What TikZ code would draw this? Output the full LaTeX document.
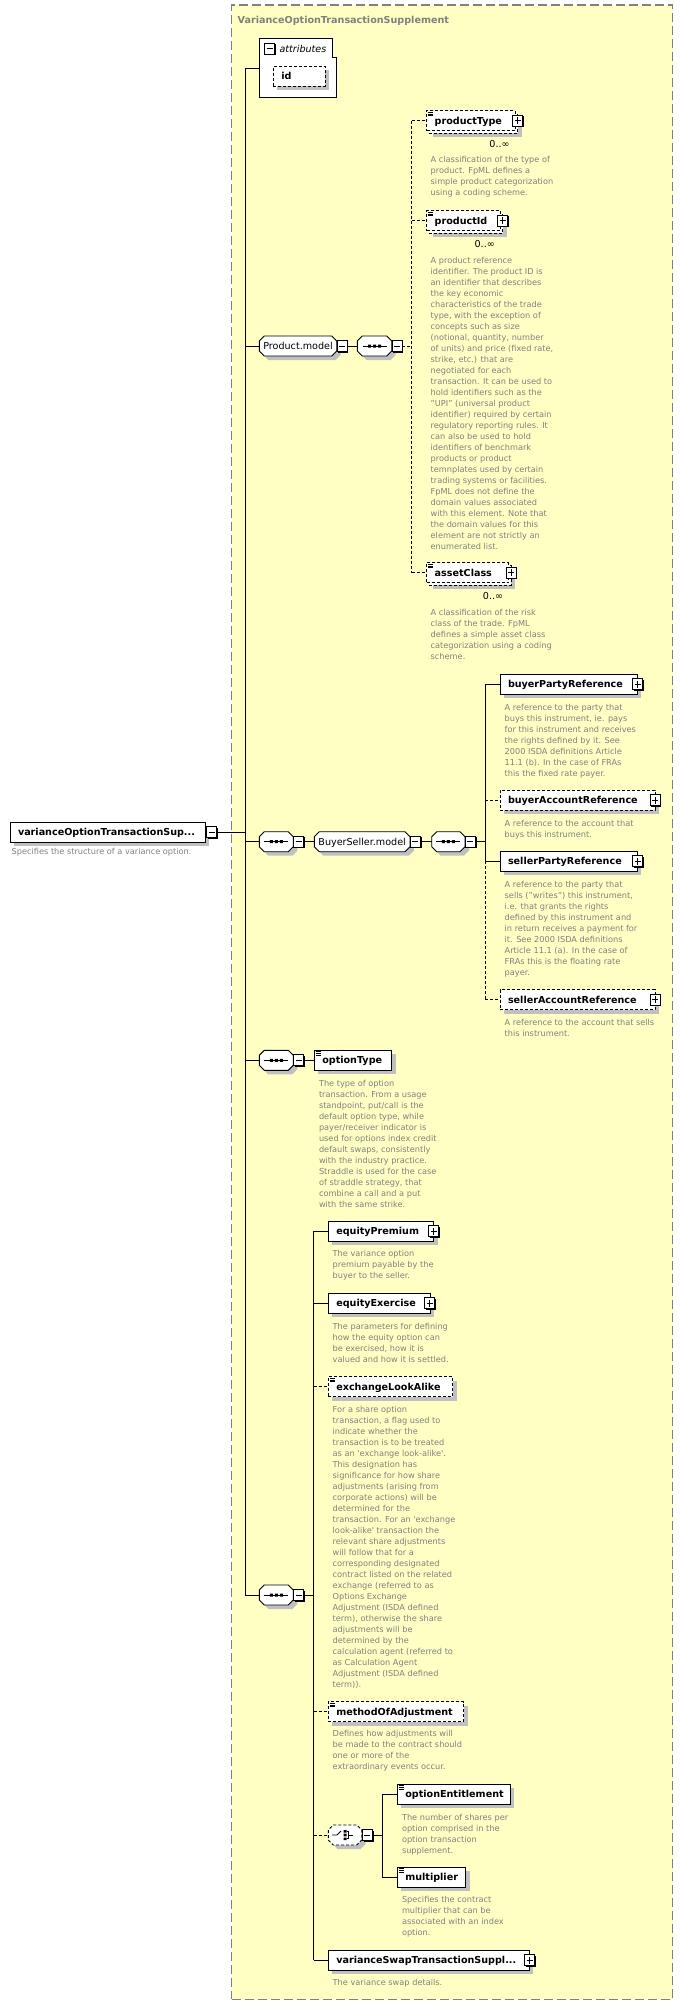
\documentclass[tikz,border=0pt]{standalone}
\usepackage{fontspec}
\setmainfont{DejaVu Sans}
\definecolor{bgyellow}{RGB}{255,255,196}
\definecolor{framegray}{RGB}{128,128,128}
\definecolor{shadowgray}{RGB}{192,192,192}
\definecolor{descgray}{RGB}{128,128,128}
\newcommand\elemfont{\fontsize{9.6}{11}\selectfont\bfseries}
\newcommand\modelfont{\fontsize{9.6}{11}\selectfont}
\newcommand\descfont{\fontsize{8.2}{11}\selectfont}
\newcommand\namestrut{\rule[-2.5pt]{0pt}{12pt}}
\tikzset{
 conn/.style={draw=black, line width=0.9pt},
 optline/.style={dash pattern=on 3pt off 2pt},
 elem/.style={draw=black, fill=white, line width=0.9pt, inner xsep=8pt, inner ysep=0pt, outer sep=0pt, minimum height=20pt, anchor=west, font=\elemfont},
 grpnode/.style={inner sep=0pt, outer sep=0pt, minimum height=20pt, anchor=west, font=\modelfont},
 iconbox/.style={draw=black, fill=white, line width=0.8pt, minimum width=10pt, minimum height=11pt, inner sep=0pt, outer sep=0pt},
 descnode/.style={anchor=north west, inner sep=0pt, outer sep=0pt, align=left, font=\descfont, text=descgray},
 card/.style={anchor=base, inner sep=0pt, outer sep=0pt, font=\modelfont},
}
% element box: [opts]{name}{x1}{x2}{yc}{text}
\newcommand\elbox[6][]{%
  \fill[shadowgray] ({#3+4},{#5-6}) rectangle ({#4+4},{#5+14});
  \pgfmathsetlengthmacro\bw{(#4-#3-16)*1pt}%
  \node[elem,#1,minimum width={(#4-#3)*1pt}] (#2) at (#3,#5) {\makebox[\bw][l]{\namestrut#6}};
}
% repeated element box
\newcommand\elrep[6][]{%
  \fill[shadowgray] ({#3+6.5},{#5-3.5}) rectangle ({#4+6.5},{#5+16.5});
  \draw[line width=0.9pt,#1,fill=white] ({#3+2.5},{#5-7.5}) rectangle ({#4+2.5},{#5+12.5});
  \pgfmathsetlengthmacro\bw{(#4-#3-16)*1pt}%
  \node[elem,#1,minimum width={(#4-#3)*1pt}] (#2) at (#3,#5) {\makebox[\bw][l]{\namestrut#6}};
}
% group (octagon) node
\newcommand\grp[6][]{%
  \fill[shadowgray] ({#3+9},{#5-6}) -- ({#4-1},{#5-6}) -- ({#4+4},{#5-1}) -- ({#4+4},{#5+9}) -- ({#4-1},{#5+14}) -- ({#3+9},{#5+14}) -- ({#3+4},{#5+9}) -- ({#3+4},{#5-1}) -- cycle;
  \draw[line width=0.9pt,#1,fill=white] ({#3+5},{#5-10}) -- ({#4-5},{#5-10}) -- (#4,{#5-5}) -- (#4,{#5+5}) -- ({#4-5},{#5+10}) -- ({#3+5},{#5+10}) -- (#3,{#5+5}) -- (#3,{#5-5}) -- cycle;
  \node[grpnode, minimum width={(#4-#3)*1pt}] (#2) at (#3,#5) {\namestrut#6};
}
\newcommand\minusicon[3]{%
  \fill[black] ({#2-3.8},{#3-4.3}) rectangle ({#2+6.2},{#3+6.7});
  \node[iconbox] (#1) at (#2,#3) {};
  \draw[line width=.8pt] ([shift={(-3,0)}]#1.center) -- ([shift={(3,0)}]#1.center);
}
\newcommand\plusicon[3]{%
  \fill[black] ({#2-3.8},{#3-4.3}) rectangle ({#2+6.2},{#3+6.7});
  \node[iconbox] (#1) at (#2,#3) {};
  \draw[line width=.8pt] ([shift={(-3,0)}]#1.center) -- ([shift={(3,0)}]#1.center)
     ([shift={(0,-3.5)}]#1.center) -- ([shift={(0,3.5)}]#1.center);
}
\newcommand\simpleicon[1]{%
  \draw[line width=.7pt] ([shift={(1.5,1.3)}]#1.north west) -- ++(5,0)
     ([shift={(1.5,3.2)}]#1.north west) -- ++(5,0)
     ([shift={(1.5,5.1)}]#1.north west) -- ++(5,0);
}
\newcommand\seqsym[1]{%
  \draw[line width=1pt] ([shift={(-12,0)}]#1.center) -- ([shift={(12,0)}]#1.center);
  \fill ([shift={(-6.5,-1.5)}]#1.center) rectangle ([shift={(-3.5,1.5)}]#1.center)
        ([shift={(-1.5,-1.5)}]#1.center) rectangle ([shift={(1.5,1.5)}]#1.center)
        ([shift={(3.5,-1.5)}]#1.center) rectangle ([shift={(6.5,1.5)}]#1.center);
}
\newcommand\choicesym[1]{%
  \draw[line width=.9pt] ([shift={(-13,0)}]#1.center) -- ([shift={(-8,0)}]#1.center) -- ([shift={(-4,-4)}]#1.center);
  \fill ([shift={(-1.5,-5)}]#1.center) rectangle ([shift={(1.5,-2.5)}]#1.center)
        ([shift={(-1.5,-1.3)}]#1.center) rectangle ([shift={(1.5,1.3)}]#1.center)
        ([shift={(-1.5,2.5)}]#1.center) rectangle ([shift={(1.5,5)}]#1.center);
  \draw[line width=.8pt] ([shift={(1.5,-3.7)}]#1.center) -- ([shift={(3.5,-3.7)}]#1.center) -- ([shift={(3.5,3.7)}]#1.center) -- ([shift={(1.5,3.7)}]#1.center)
     ([shift={(3.5,0)}]#1.center) -- ([shift={(8,0)}]#1.center);
}
\newcommand\desc[4]{\node[descnode] (#1) at (#2,{#3-4.6}) {\rule{0pt}{8pt}#4};}
\begin{document}
\begin{tikzpicture}[x=1pt,y=-1pt]
\useasboundingbox (0,0) rectangle (683,2005);
% container
\node[draw=framegray, line width=1.3pt, dash pattern=on 9pt off 4pt, fill=bgyellow, inner sep=0pt, outer sep=0pt, minimum width=441pt, minimum height=1994.3pt, anchor=north west] (ct) at (231.7,5) {};
\node[anchor=base west, inner sep=0pt, font=\modelfont\bfseries, text=framegray] (title) at (237.5,23.3) {VarianceOptionTransactionSupplement};
% attributes
\node[inner sep=0pt, outer sep=0pt, minimum width=77.4pt, minimum height=59.4pt, anchor=north west] (attr) at (259.3,38.3) {};
\draw[line width=0.9pt, fill=white] (attr.north west) -- ([shift={(-4,0)}]attr.north east) -- ([shift={(-4,19.4)}]attr.north east) -- ([shift={(0,19.4)}]attr.north east) -- (attr.south east) -- (attr.south west) -- cycle;
\minusicon{attr-m}{269.5}{48.5}
\node[anchor=base west, inner sep=0pt, font=\modelfont\itshape] (attr-t) at (279.3,52) {attributes};
\elbox[optline]{id}{273.3}{325}{76}{id}
% root
\elbox{root}{10}{205}{832}{varianceOptionTransactionSup...}
\minusicon{root-m}{211.7}{832}
\desc{root-d}{11.7}{851}{Specifies the structure of a variance option.}
% Product.model
\grp{pm}{259.3}{336.7}{346}{Product.model}
\minusicon{pm-m}{342.2}{346}
\grp{pseq}{357.3}{391.7}{346}{}
\seqsym{pseq}
\minusicon{pseq-m}{397.2}{346}
\elrep[optline]{ptype}{426.7}{515}{120.7}{productType}
\simpleicon{ptype}
\plusicon{ptype-p}{517.5}{120.7}
\node[card] (ptype-c) at (499.5,147.5) {0..∞};
\desc{ptype-d}{430.7}{159.3}{A classification of the type of\\product. FpML defines a\\simple product categorization\\using a coding scheme.}
\elrep[optline]{pid}{426.7}{500.2}{220.7}{productId}
\simpleicon{pid}
\plusicon{pid-p}{502.7}{220.7}
\node[card] (pid-c) at (484.7,247.5) {0..∞};
\desc{pid-d}{430.7}{260}{A product reference\\identifier. The product ID is\\an identifier that describes\\the key economic\\characteristics of the trade\\type, with the exception of\\concepts such as size\\(notional, quantity, number\\of units) and price (fixed rate,\\strike, etc.) that are\\negotiated for each\\transaction. It can be used to\\hold identifiers such as the\\"UPI" (universal product\\identifier) required by certain\\regulatory reporting rules. It\\can also be used to hold\\identifiers of benchmark\\products or product\\temnplates used by certain\\trading systems or facilities.\\FpML does not define the\\domain values associated\\with this element. Note that\\the domain values for this\\element are not strictly an\\enumerated list.}
\elrep[optline]{pac}{426.7}{508.5}{572.7}{assetClass}
\simpleicon{pac}
\plusicon{pac-p}{511}{572.7}
\node[card] (pac-c) at (493,599.5) {0..∞};
\desc{pac-d}{430.7}{612.3}{A classification of the risk\\class of the trade. FpML\\defines a simple asset class\\categorization using a coding\\scheme.}
% BuyerSeller
\grp{s1}{259.3}{293.3}{841.7}{}
\seqsym{s1}
\minusicon{s1-m}{298.7}{841.7}
\grp{bs}{314.3}{410}{841.7}{BuyerSeller.model}
\minusicon{bs-m}{415.4}{841.7}
\grp{s2}{431.7}{465}{841.7}{}
\seqsym{s2}
\minusicon{s2-m}{470.4}{841.7}
\elbox{bpr}{500}{637.3}{684.3}{buyerPartyReference}
\plusicon{bpr-p}{637.5}{684.3}
\desc{bpr-d}{504.7}{706.7}{A reference to the party that\\buys this instrument, ie. pays\\for this instrument and receives\\the rights defined by it. See\\2000 ISDA definitions Article\\11.1 (b). In the case of FRAs\\this the fixed rate payer.}
\elbox[optline]{bar}{500}{655}{800.3}{buyerAccountReference}
\plusicon{bar-p}{655}{800.3}
\desc{bar-d}{504.7}{822.7}{A reference to the account that\\buys this instrument.}
\elbox{spr}{500}{637.3}{861.3}{sellerPartyReference}
\plusicon{spr-p}{637.5}{861.3}
\desc{spr-d}{504.7}{883.7}{A reference to the party that\\sells ("writes") this instrument,\\i.e. that grants the rights\\defined by this instrument and\\in return receives a payment for\\it. See 2000 ISDA definitions\\Article 11.1 (a). In the case of\\FRAs this is the floating rate\\payer.}
\elbox[optline]{sar}{500}{655}{999.7}{sellerAccountReference}
\plusicon{sar-p}{655}{999.7}
\desc{sar-d}{504.7}{1021.7}{A reference to the account that sells\\this instrument.}
% optionType
\grp{s3}{259.3}{293.3}{1060.3}{}
\seqsym{s3}
\minusicon{s3-m}{298.8}{1060.3}
\elbox{ot}{314.3}{391.7}{1060.3}{optionType}
\simpleicon{ot}
\desc{ot-d}{319}{1082.7}{The type of option\\transaction. From a usage\\standpoint, put/call is the\\default option type, while\\payer/receiver indicator is\\used for options index credit\\default swaps, consistently\\with the industry practice.\\Straddle is used for the case\\of straddle strategy, that\\combine a call and a put\\with the same strike.}
% last sequence
\grp{s4}{259.3}{293.3}{1595}{}
\seqsym{s4}
\minusicon{s4-m}{298.8}{1595}
\elbox{eqp}{328.3}{433.7}{1231.3}{equityPremium}
\plusicon{eqp-p}{433.8}{1231.3}
\desc{eqp-d}{332.7}{1253.3}{The variance option\\premium payable by the\\buyer to the seller.}
\elbox{eqe}{328.3}{430}{1303.3}{equityExercise}
\plusicon{eqe-p}{429.5}{1303.3}
\desc{eqe-d}{332.7}{1325.7}{The parameters for defining\\how the equity option can\\be exercised, how it is\\valued and how it is settled.}
\elbox[optline]{ela}{328.3}{452.7}{1386.7}{exchangeLookAlike}
\simpleicon{ela}
\desc{ela-d}{332.7}{1408.7}{For a share option\\transaction, a flag used to\\indicate whether the\\transaction is to be treated\\as an \textquotesingle exchange look-alike\textquotesingle.\\This designation has\\significance for how share\\adjustments (arising from\\corporate actions) will be\\determined for the\\transaction. For an \textquotesingle exchange\\look-alike\textquotesingle\ transaction the\\relevant share adjustments\\will follow that for a\\corresponding designated\\contract listed on the related\\exchange (referred to as\\Options Exchange\\Adjustment (ISDA defined\\term), otherwise the share\\adjustments will be\\determined by the\\calculation agent (referred to\\as Calculation Agent\\Adjustment (ISDA defined\\term)).}
\elbox[optline]{moa}{328.3}{463.7}{1711.7}{methodOfAdjustment}
\simpleicon{moa}
\desc{moa-d}{332.7}{1733.3}{Defines how adjustments will\\be made to the contract should\\one or more of the\\extraordinary events occur.}
\grp[optline]{ch}{328.3}{361.7}{1835}{}
\choicesym{ch}
\minusicon{ch-m}{367.3}{1835}
\elbox{oe}{397.3}{510.3}{1794.3}{optionEntitlement}
\simpleicon{oe}
\desc{oe-d}{402}{1816.7}{The number of shares per\\option comprised in the\\option transaction\\supplement.}
\elbox{mul}{397.3}{465.7}{1877.3}{multiplier}
\simpleicon{mul}
\desc{mul-d}{402}{1899.3}{Specifies the contract\\multiplier that can be\\associated with an index\\option.}
\elbox{vst}{328.3}{529.3}{1960}{varianceSwapTransactionSuppl...}
\plusicon{vst-p}{529.5}{1960}
\desc{vst-d}{332.7}{1982.3}{The variance swap details.}
% coordinates for branch lines
\coordinate (mtop) at (245,68);
\coordinate (mbot) at (245,1595);
\coordinate (pv1) at (411.7,120.7);
\coordinate (pv2) at (411.7,572.7);
\coordinate (bv1) at (485,684.3);
\coordinate (bv2) at (485,861.3);
\coordinate (bv3) at (485,999.7);
\coordinate (ev1) at (313.7,1231.3);
\coordinate (ev2) at (313.7,1960);
\coordinate (cv1) at (382.3,1794.3);
\coordinate (cv2) at (382.3,1877.3);
% connectors
\draw[conn] (mtop) -- (mbot);
\draw[conn] (mtop) -- (attr.west);
\draw[conn] (root-m.east) -- (root-m.east -| mtop);
\draw[conn] (pm.west -| mtop) -- (pm.west);
\draw[conn] (pm-m.east) -- (pseq.west);
\draw[conn,optline] (pseq-m.east) -- (pseq-m.east -| pv1);
\draw[conn,optline] (pv1) -- (pv2);
\draw[conn,optline] (pv1) -- (ptype.west);
\draw[conn,optline] (pid.west -| pv1) -- (pid.west);
\draw[conn,optline] (pv2) -- (pac.west);
\draw[conn] (s1.west -| mtop) -- (s1.west);
\draw[conn] (s1-m.east) -- (bs.west);
\draw[conn] (bs-m.east) -- (s2.west);
\draw[conn] (s2-m.east) -- (s2-m.east -| bv1);
\draw[conn] (bv1) -- (bv2);
\draw[conn,optline] (bv2) -- (bv3);
\draw[conn] (bv1) -- (bpr.west);
\draw[conn,optline] (bar.west -| bv1) -- (bar.west);
\draw[conn] (bv2) -- (spr.west);
\draw[conn,optline] (bv3) -- (sar.west);
\draw[conn] (s3.west -| mtop) -- (s3.west);
\draw[conn] (s3-m.east) -- (ot.west);
\draw[conn] (s4.west -| mtop) -- (s4.west);
\draw[conn] (s4-m.east) -- (s4-m.east -| ev1);
\draw[conn] (ev1) -- (ev2);
\draw[conn] (ev1) -- (eqp.west);
\draw[conn] (eqe.west -| ev1) -- (eqe.west);
\draw[conn,optline] (ela.west -| ev1) -- (ela.west);
\draw[conn,optline] (moa.west -| ev1) -- (moa.west);
\draw[conn,optline] (ch.west -| ev1) -- (ch.west);
\draw[conn] (ev2) -- (vst.west);
\draw[conn] (ch-m.east) -- (ch-m.east -| cv1);
\draw[conn] (cv1) -- (cv2);
\draw[conn] (cv1) -- (oe.west);
\draw[conn] (cv2) -- (mul.west);
\end{tikzpicture}
\end{document}
